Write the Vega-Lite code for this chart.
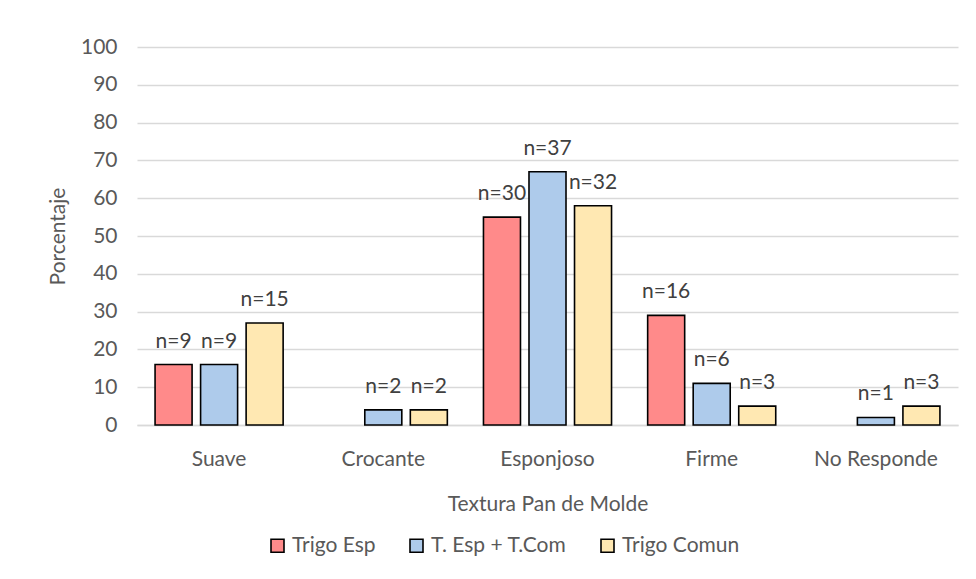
{
  "$schema": "https://vega.github.io/schema/vega-lite/v6.json",
  "autosize": "none",
  "width": 821,
  "height": 378,
  "padding": {"left": 137, "top": 47, "right": 18, "bottom": 154},
  "background": "white",
  "config": {
    "font": "Lato",
    "view": {"stroke": null}
  },
  "data": {
    "values": [
      {"textura": "Suave", "grupo": "Trigo Esp", "porcentaje": 16, "label": "n=9"},
      {"textura": "Suave", "grupo": "T. Esp + T.Com", "porcentaje": 16, "label": "n=9"},
      {"textura": "Suave", "grupo": "Trigo Comun", "porcentaje": 27, "label": "n=15"},
      {"textura": "Crocante", "grupo": "T. Esp + T.Com", "porcentaje": 4, "label": "n=2"},
      {"textura": "Crocante", "grupo": "Trigo Comun", "porcentaje": 4, "label": "n=2"},
      {"textura": "Esponjoso", "grupo": "Trigo Esp", "porcentaje": 55, "label": "n=30"},
      {"textura": "Esponjoso", "grupo": "T. Esp + T.Com", "porcentaje": 67, "label": "n=37"},
      {"textura": "Esponjoso", "grupo": "Trigo Comun", "porcentaje": 58, "label": "n=32"},
      {"textura": "Firme", "grupo": "Trigo Esp", "porcentaje": 29, "label": "n=16"},
      {"textura": "Firme", "grupo": "T. Esp + T.Com", "porcentaje": 11, "label": "n=6"},
      {"textura": "Firme", "grupo": "Trigo Comun", "porcentaje": 5, "label": "n=3"},
      {"textura": "No Responde", "grupo": "T. Esp + T.Com", "porcentaje": 2, "label": "n=1"},
      {"textura": "No Responde", "grupo": "Trigo Comun", "porcentaje": 5, "label": "n=3"}
    ]
  },
  "encoding": {
    "x": {
      "field": "textura",
      "type": "nominal",
      "sort": ["Suave", "Crocante", "Esponjoso", "Firme", "No Responde"],
      "scale": {"paddingInner": 0.22, "paddingOuter": 0.11},
      "axis": {
        "title": "Textura Pan de Molde",
        "labelAngle": 0,
        "labelFontSize": 21,
        "labelColor": "#595959",
        "labelPadding": 23,
        "ticks": false,
        "domainColor": "#D9D9D9",
        "domainWidth": 1.3,
        "titleFontSize": 21,
        "titleFontWeight": "normal",
        "titleColor": "#595959",
        "titlePadding": 24
      }
    },
    "xOffset": {
      "field": "grupo",
      "type": "nominal",
      "sort": ["Trigo Esp", "T. Esp + T.Com", "Trigo Comun"],
      "scale": {"paddingInner": 0.187, "paddingOuter": 0}
    },
    "y": {
      "field": "porcentaje",
      "type": "quantitative",
      "scale": {"domain": [0, 100], "nice": false},
      "axis": {
        "title": "Porcentaje",
        "values": [0, 10, 20, 30, 40, 50, 60, 70, 80, 90, 100],
        "labelFontSize": 21,
        "labelColor": "#595959",
        "labelPadding": 20,
        "ticks": false,
        "domain": false,
        "gridColor": "#D9D9D9",
        "gridWidth": 1.3,
        "titleFontSize": 21,
        "titleFontWeight": "normal",
        "titleColor": "#595959",
        "titlePadding": 12
      }
    }
  },
  "layer": [
    {
      "mark": {"type": "bar", "stroke": "black", "strokeWidth": 1.6},
      "encoding": {
        "color": {
          "field": "grupo",
          "type": "nominal",
          "sort": ["Trigo Esp", "T. Esp + T.Com", "Trigo Comun"],
          "scale": {
            "domain": ["Trigo Esp", "T. Esp + T.Com", "Trigo Comun"],
            "range": ["#FF8A8A", "#AECBEB", "#FFE8B2"]
          },
          "legend": {
            "title": null,
            "orient": "none",
            "direction": "horizontal",
            "legendX": 130,
            "legendY": 488,
            "padding": 0,
            "symbolType": "square",
            "symbolSize": 169,
            "symbolStrokeColor": "black",
            "symbolStrokeWidth": 1.6,
            "symbolOpacity": 1,
            "labelFontSize": 21,
            "labelColor": "#595959",
            "labelOffset": 4,
            "columnPadding": 30
          }
        }
      }
    },
    {
      "mark": {"type": "text", "fontSize": 21, "color": "#404040", "baseline": "alphabetic", "dy": -17},
      "encoding": {
        "text": {"field": "label"}
      }
    }
  ]
}
